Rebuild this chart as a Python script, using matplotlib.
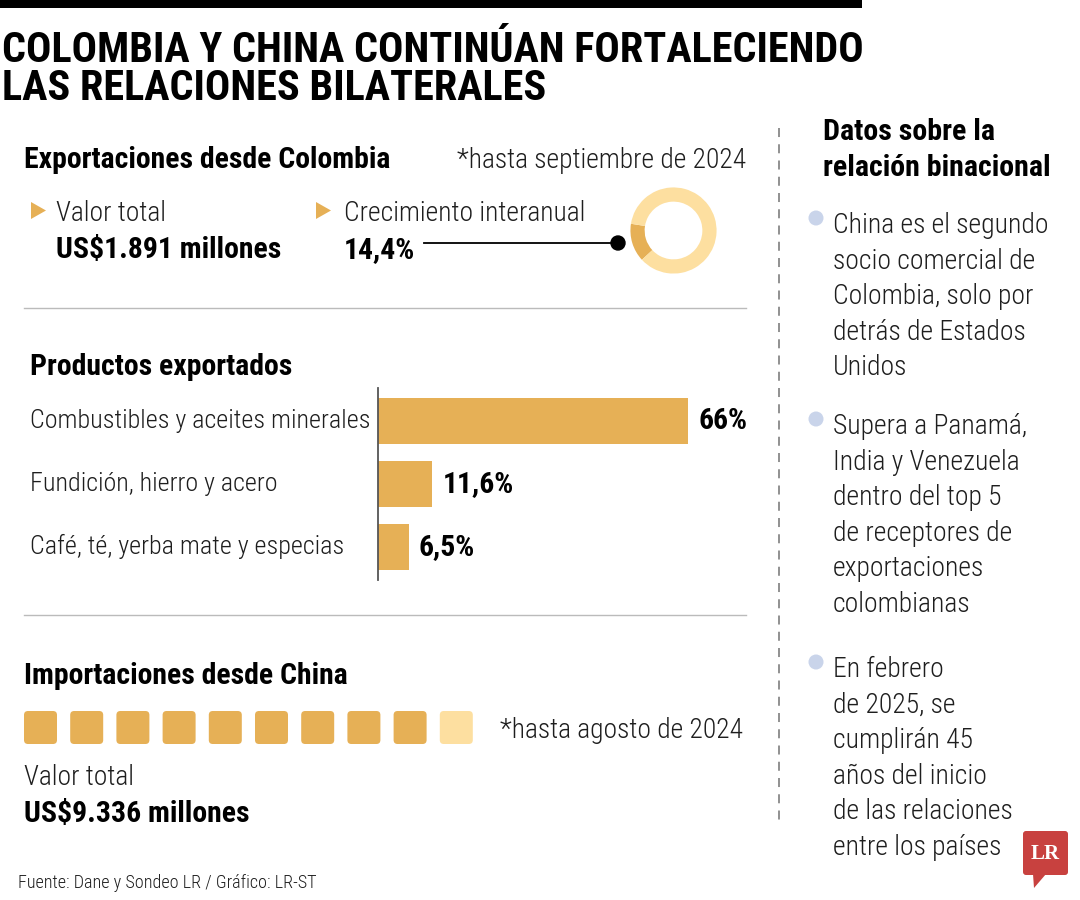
import matplotlib.pyplot as plt
import matplotlib.font_manager as fm
from matplotlib.font_manager import FontProperties
from matplotlib.patches import FancyBboxPatch, Circle, Polygon
import numpy as np
import os

# ---- datos
titulo = ['COLOMBIA Y CHINA CONTINÚAN FORTALECIENDO', 'LAS RELACIONES BILATERALES']
export_total = 'US$1.891 millones'
crecimiento = 14.4
productos = ['Combustibles y aceites minerales', 'Fundición, hierro y acero', 'Café, té, yerba mate y especias']
participacion = [66, 11.6, 6.5]
part_labels = ['66%', '11,6%', '6,5%']
import_total = 'US$9.336 millones'
cuadros_total = 10
cuadros_llenos = 9
datos = [
    ['China es el segundo', 'socio comercial de', 'Colombia, solo por', 'detrás de Estados', 'Unidos'],
    ['Supera a Panamá,', 'India y Venezuela', 'dentro del top 5', 'de receptores de', 'exportaciones', 'colombianas'],
    ['En febrero', 'de 2025, se', 'cumplirán 45', 'años del inicio', 'de las relaciones', 'entre los países'],
]

ORO = '#E6B056'
ORO_CLARO = '#FDDFA0'
GRIS = '#BBBBBB'
TXT = '#1E1E1E'


# ---- buscar una fuente condensada instalada
def _peso(f):
    w = f.weight
    if isinstance(w, str):
        w = fm.weight_dict.get(w, 400)
    return w

def _condensada(f):
    n = (f.name + ' ' + os.path.basename(f.fname)).lower()
    return ('narrow' in n or 'condensed' in n or 'cond' in n
            or f.stretch in ('condensed', 'semi-condensed', 'extra-condensed', 'ultra-condensed'))

preferidas = ['Liberation Sans Narrow', 'Roboto Condensed', 'Open Sans Condensed', 'Noto Sans',
              'Open Sans', 'Roboto', 'DejaVu Sans']
conds = [f for f in fm.fontManager.ttflist if _condensada(f) and 'italic' not in f.style
         and 'italic' not in os.path.basename(f.fname).lower() and 'mono' not in f.name.lower()
         and 'serif' not in f.name.lower().replace('sans', '')]

def elegir(peso):
    for fam in preferidas:
        c = [f for f in conds if f.name.startswith(fam)]
        if c:
            return min(c, key=lambda f: abs(_peso(f) - peso)).fname
    if conds:
        return min(conds, key=lambda f: abs(_peso(f) - peso)).fname
    return fm.findfont(FontProperties(family='Liberation Sans', weight='bold' if peso > 500 else 'normal'))

F_REG = elegir(330)
F_BOLD = elegir(650)

W, H = 1080, 900
fig = plt.figure(figsize=(W / 100, H / 100), dpi=100)
ax = fig.add_axes([0, 0, 1, 1])
ax.set_xlim(0, W)
ax.set_ylim(H, 0)
ax.axis('off')
rend = fig.canvas.get_renderer()


def ajustar(texto, fname, ancho):  # tamano para que el texto mida 'ancho' px
    t = ax.text(0, 0, texto, fontproperties=FontProperties(fname=fname, size=20))
    w = t.get_window_extent(rend).width
    t.remove()
    return 20 * ancho / w

S_TIT = ajustar(titulo[0], F_BOLD, 863)
S_SEC = ajustar('Exportaciones desde Colombia', F_BOLD, 366)
S_VAL = ajustar(export_total, F_BOLD, 225)
S_PROD = ajustar(productos[0], F_REG, 340)
S_REG = S_PROD * 1.05
S_DER = ajustar('China es el segundo', F_REG, 203) * 1.06
S_DTIT = ajustar('relación binacional', F_BOLD, 228)
S_FUE = ajustar('Fuente: Dane y Sondeo LR / Gráfico: LR-ST', F_REG, 299)


def fp(fname, size):
    return FontProperties(fname=fname, size=size)


def px_axes(x0, y0, x1, y1):  # ejes en pixeles (y desde arriba)
    return fig.add_axes([x0 / W, 1 - y1 / H, (x1 - x0) / W, (y1 - y0) / H])


# barra superior y titulo
ax.fill_between([0, 862], 0, 8, color='black', lw=0)
ax.text(2, 62, titulo[0], fontproperties=fp(F_BOLD, S_TIT), va='baseline')
ax.text(2, 100, titulo[1], fontproperties=fp(F_BOLD, S_TIT), va='baseline')

# exportaciones
ax.text(24, 168, 'Exportaciones desde Colombia', fontproperties=fp(F_BOLD, S_SEC), va='baseline')
ax.text(746, 168, '*hasta septiembre de 2024', fontproperties=fp(F_REG, S_REG), ha='right',
        va='baseline', color=TXT)
for xt in [31, 316]:
    ax.add_patch(Polygon([[xt, 202], [xt, 219], [xt + 15, 210.5]], color=ORO, lw=0))
ax.text(56, 221, 'Valor total', fontproperties=fp(F_REG, S_REG), va='baseline', color=TXT)
ax.text(56, 258, export_total, fontproperties=fp(F_BOLD, S_VAL), va='baseline')
ax.text(344, 221, 'Crecimiento interanual', fontproperties=fp(F_REG, S_REG), va='baseline', color=TXT)
ax.text(344, 258, f'{crecimiento:.1f}%'.replace('.', ','), fontproperties=fp(F_BOLD, S_VAL), va='baseline')
ax.plot([424, 618], [243, 243], color='black', lw=1.3)
ax.add_patch(Circle((618, 243), 7, color='black'))

# dona del crecimiento
ax_d = px_axes(630, 187, 717, 274)
ax_d.pie([crecimiento, 100 - crecimiento], colors=[ORO, ORO_CLARO], startangle=171,
         radius=1, wedgeprops=dict(width=0.33, linewidth=0))
ax_d.set_xlim(-1.01, 1.01)
ax_d.set_ylim(-1.01, 1.01)
ax_d.set_aspect('equal')

ax.plot([24, 746], [308, 308], color=GRIS, lw=1)

# productos exportados
ax.text(30, 375, 'Productos exportados', fontproperties=fp(F_BOLD, S_SEC), va='baseline')
ax_b = px_axes(378, 388, 778, 580)
y = np.arange(len(productos))
ax_b.barh(y, participacion, height=0.74, color=ORO)
ax_b.set_ylim(len(productos) - 0.5 + 0.03, -0.5 - 0.03)
ax_b.set_xlim(0, 66 * 400 / 310)
for i, (v, lab) in enumerate(zip(participacion, part_labels)):
    ax_b.text(v + 2.2, i, lab, fontproperties=fp(F_BOLD, S_VAL), va='center')
for s in ['top', 'right', 'bottom']:
    ax_b.spines[s].set_visible(False)
ax_b.spines['left'].set_color('#555555')
ax_b.spines['left'].set_linewidth(1.3)
ax_b.set_xticks([])
ax_b.set_yticks([])
ax_b.patch.set_alpha(0)
# nombres de productos alineados a la izquierda
for i, nom in enumerate(productos):
    yy = ax_b.transData.transform((0, i))[1]
    ax.text(30, H - yy, nom, fontproperties=fp(F_REG, S_PROD), va='center', color=TXT)

ax.plot([24, 746], [615, 615], color=GRIS, lw=1)

# importaciones
ax.text(24, 684, 'Importaciones desde China', fontproperties=fp(F_BOLD, S_SEC), va='baseline')
for k in range(cuadros_total):
    c = ORO if k < cuadros_llenos else ORO_CLARO
    ax.add_patch(FancyBboxPatch((24 + k * 46.2, 711), 33, 33, boxstyle='round,pad=0,rounding_size=4',
                                color=c, lw=0))
ax.text(500, 738, '*hasta agosto de 2024', fontproperties=fp(F_REG, S_REG), va='baseline', color=TXT)
ax.text(24, 785, 'Valor total', fontproperties=fp(F_REG, S_REG), va='baseline', color=TXT)
ax.text(24, 822, import_total, fontproperties=fp(F_BOLD, S_VAL), va='baseline')

ax.text(18, 888, 'Fuente: Dane y Sondeo LR / Gráfico: LR-ST', fontproperties=fp(F_REG, S_FUE),
        va='baseline', color=TXT)

# columna derecha
ax.plot([779, 779], [128, 822], color='#888888', lw=1.3, ls=(0, (5, 4)))
ax.text(823, 140, 'Datos sobre la', fontproperties=fp(F_BOLD, S_DTIT), va='baseline')
ax.text(823, 176, 'relación binacional', fontproperties=fp(F_BOLD, S_DTIT), va='baseline')
y0s = [233, 434, 677]
for y0, lineas in zip(y0s, datos):
    ax.add_patch(Circle((816, y0 - 15), 7.5, color='#C9D4EA', lw=0))
    for j, l in enumerate(lineas):
        ax.text(833, y0 + j * 35.6, l, fontproperties=fp(F_REG, S_DER), va='baseline', color=TXT)

# logo LR
ax.add_patch(FancyBboxPatch((1023, 831), 45, 44, boxstyle='round,pad=0,rounding_size=3',
                            color='#C8413F', lw=0))
ax.add_patch(Polygon([[1033, 874], [1046, 874], [1034, 888]], color='#C8413F', lw=0))
ax.text(1045.5, 854, 'LR', fontsize=15, fontweight='bold', family='Liberation Serif',
        color='white', ha='center', va='center')

fig.savefig('out.png', dpi=100, facecolor='white')
